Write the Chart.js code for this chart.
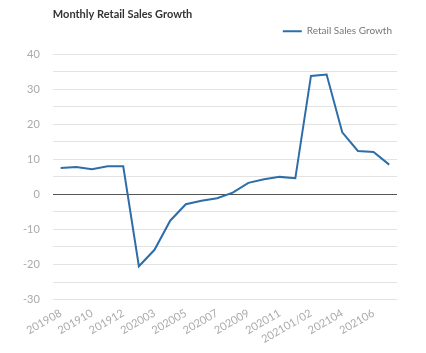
<!DOCTYPE html>
<html>
<script src="https://cdn.jsdelivr.net/npm/chart.js@4.4.0/dist/chart.umd.min.js"></script>
<body style="margin:0;background:#fff">

<canvas id="myChart" width="426" height="353"></canvas>

<script>
    const months = ["201908", "201909", "201910", "201911", "201912", "202001/02",
        "202003", "202004", "202005", "202006", "202007", "202008", "202009",
        "202010", "202011", "202012", "202101/02", "202103", "202104", "202105",
        "202106", "202107"];
    const growth = [7.5, 7.8, 7.2, 8.0, 8.0, -20.5, -15.8, -7.5, -2.8, -1.8, -1.1,
        0.5, 3.3, 4.3, 5.0, 4.6, 33.8, 34.2, 17.7, 12.4, 12.1, 8.5];

    const font = "Lato";

    // a bit more room under the legend
    const legendGap = {
        id: "legendGap",
        afterInit(chart) {
            const fit = chart.legend.fit;
            chart.legend.fit = function () {
                fit.call(this);
                this.height += 8;
            };
        }
    };

    new Chart(document.getElementById("myChart"), {
        type: "line",
        data: {
            labels: months,
            datasets: [{
                label: "Retail Sales Growth",
                data: growth,
                borderColor: "#2e6ea8",
                backgroundColor: "#2e6ea8",
                borderWidth: 2,
                pointRadius: 0,
                tension: 0
            }]
        },
        options: {
            responsive: false,
            animation: false,
            layout: { padding: { left: 10, right: 29, top: 4, bottom: 8 } },
            plugins: {
                title: {
                    display: true,
                    text: "Monthly Retail Sales Growth",
                    align: "start",
                    fullSize: false,
                    color: "#333",
                    font: { family: font, size: 11, weight: "bold" },
                    padding: { top: 4, bottom: 0 }
                },
                legend: {
                    align: "end",
                    fullSize: false,
                    labels: {
                        color: "#777",
                        font: { family: font, size: 10 },
                        usePointStyle: true,
                        pointStyle: "line",
                        pointStyleWidth: 19,
                        padding: 5
                    }
                },
                tooltip: { enabled: false }
            },
            scales: {
                x: {
                    offset: true,
                    grid: { display: false },
                    border: { display: false },
                    ticks: {
                        color: "#aaa",
                        font: { family: font, size: 11 },
                        autoSkip: false,
                        minRotation: 30,
                        maxRotation: 30,
                        padding: -1,
                        callback: function (v, i) { return i % 2 === 0 ? this.getLabelForValue(v) : ""; }
                    }
                },
                y: {
                    min: -30,
                    max: 40,
                    border: { display: false },
                    grid: {
                        drawTicks: false,
                        color: (c) => c.tick && c.tick.value === 0 ? "#555" : "#e3e3e3"
                    },
                    ticks: {
                        stepSize: 5,
                        color: "#aaa",
                        font: { family: font, size: 11 },
                        padding: 13,
                        callback: (v) => v % 10 === 0 ? v : ""
                    }
                }
            }
        },
        plugins: [legendGap]
    });
</script>

</body>
</html>
